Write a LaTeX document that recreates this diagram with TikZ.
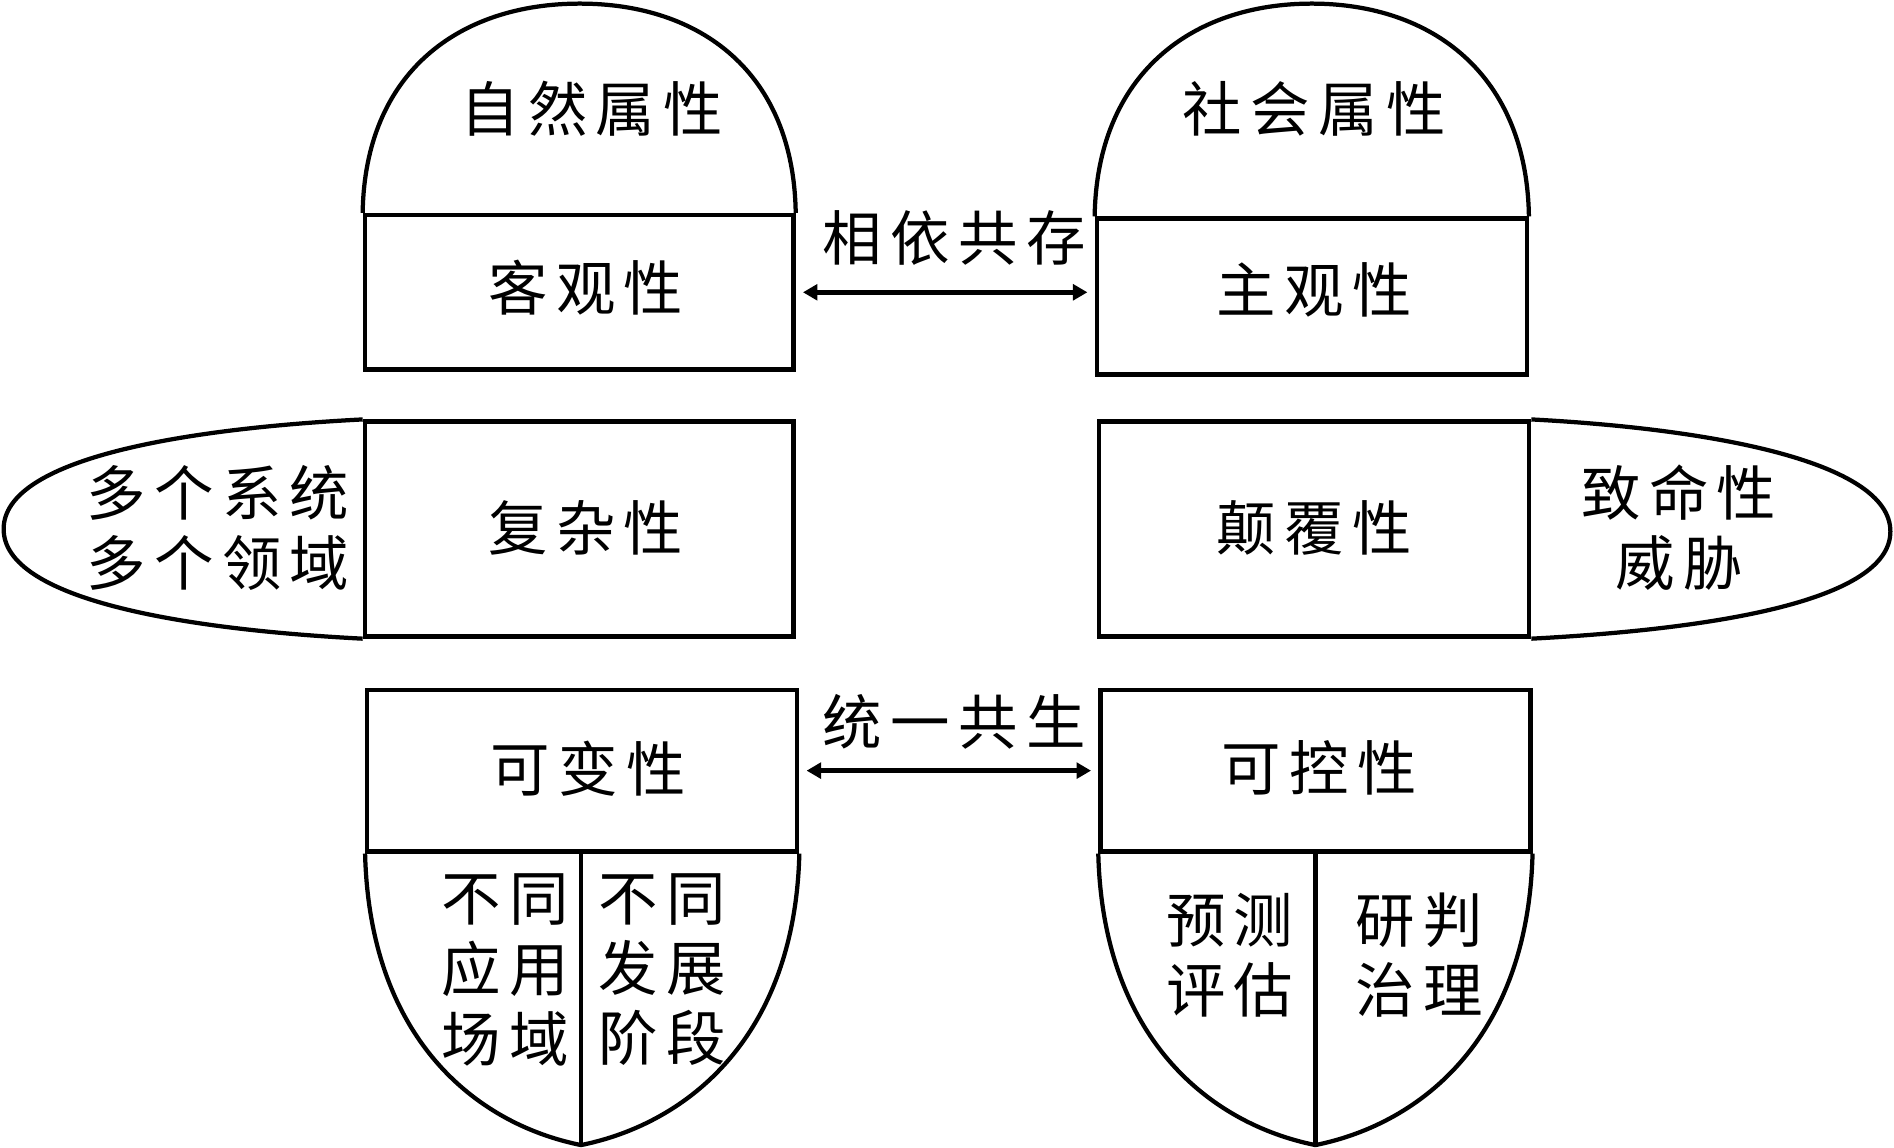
\documentclass[tikz,border=0pt]{standalone}
\usepackage{fontspec}
\newfontfamily\cjk[LetterSpace=14]{Noto Sans CJK SC}
\usetikzlibrary{arrows.meta}
\tikzset{
  txt/.style={font=\cjk\fontsize{14pt}{16.5pt}\selectfont, inner sep=0pt, align=center},
  box/.style={draw, line width=1pt, minimum width=35.5mm, inner sep=0pt},
  edge/.style={line width=1pt, line join=round},
  biarrow/.style={line width=1.3pt, {Triangle[length=1.2mm,width=1.3mm]}-{Triangle[length=1.2mm,width=1.3mm]}, shorten <=0.6mm, shorten >=0.6mm}
}
\begin{document}
\begin{tikzpicture}[x=0.1mm, y=-0.1mm]
            \useasboundingbox (0,0) rectangle (1568,950);
            %Nodes
            \node[box, minimum height=12.8mm] at (479.5,242) (kg) {};
            \node[box, minimum width=35.6mm, minimum height=12.9mm] at (1086,245.5) (zg) {};
            \node[box, minimum height=17.8mm] at (479.5,438) (fz) {};
            \node[box, minimum width=35.6mm, minimum height=17.8mm] at (1088,438) (df) {};
            \node[box, minimum width=35.6mm, minimum height=13.4mm] at (482,638) (kb) {};
            \node[box, minimum width=35.6mm, minimum height=13.4mm] at (1089,638) (kk) {};

            \node[txt] at (490,90)   (zr)  {自然属性};
            \node[txt] at (1088,90)  (sh)  {社会属性};
            \node[txt] at (485,238)  (kgt) {客观性};
            \node[txt] at (1088,240) (zgt) {主观性};
            \node[txt] at (790,197)  (xy)  {相依共存};
            \node[txt, align=right, anchor=east] at (290,437) (dg) {多个系统\\多个领域};
            \node[txt] at (485,437)  (fzt) {复杂性};
            \node[txt] at (1088,437) (dft) {颠覆性};
            \node[txt] at (1390,437) (zm)  {致命性\\威胁};
            \node[txt] at (790,598)  (ty)  {统一共生};
            \node[txt] at (487,636)  (kbt) {可变性};
            \node[txt] at (1092,636) (kkt) {可控性};
            \node[txt] at (418,803)  (yy)  {不同\\应用\\场域};
            \node[txt] at (548,803)  (fs)  {不同\\发展\\阶段};
            \node[txt] at (1018,791) (yc)  {预测\\评估};
            \node[txt] at (1175,791) (yp)  {研判\\治理};

            %Shapes
            \draw[edge] (kg.north west) .. controls (302,60) and (380,3) .. (480,3)
                                        .. controls (580,3) and (657,60) .. (kg.north east);
            \draw[edge] (zg.north west) .. controls (908,62) and (986,3) .. (1086,3)
                                        .. controls (1186,3) and (1264,62) .. (zg.north east);
            \draw[edge] (fz.north west) .. controls (150,355) and (3,380) .. (3,438)
                                        .. controls (3,496) and (150,521) .. (fz.south west);
            \draw[edge] (df.north east) .. controls (1416,355) and (1565,382) .. (1565,440)
                                        .. controls (1565,498) and (1416,521) .. (df.south east);
            \draw[edge] (kb.south west) .. controls (306,858) and (392,930) .. (481,948)
                                        .. controls (570,930) and (658,858) .. (kb.south east);
            \draw[edge] (kk.south west) .. controls (913,858) and (1000,930) .. (1089,948)
                                        .. controls (1178,930) and (1265,858) .. (kk.south east);
            \draw[edge] (kb.south) ++(-1,0) -- (481,948);
            \draw[edge] (kk.south) -- (1089,948);

            %Lines
            \draw[biarrow] (kg.east) -- (kg.east -| zg.west);
            \draw[biarrow] (kb.east) -- (kb.east -| kk.west);
\end{tikzpicture}
\end{document}
